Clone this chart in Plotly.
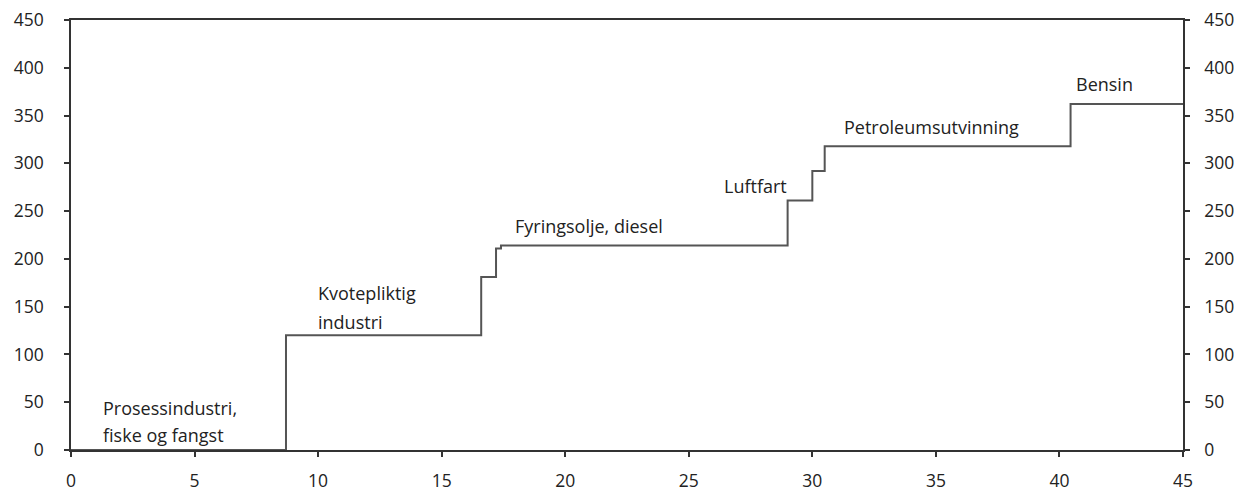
import plotly.graph_objects as go

# Step boundaries (cumulative emissions, x) and cost levels (y)
step_x = [0, 8.7, 16.6, 17.2, 17.4, 29.0, 30.0, 30.5, 40.45, 45]
step_y = [0, 120, 181, 211, 214, 261, 292, 318, 362, 362]

# Labels: text lines, anchor x, anchor y
label_text = ["Prosessindustri,", "fiske og fangst", "Kvotepliktig", "industri",
              "Fyringsolje, diesel", "Luftfart", "Petroleumsutvinning", "Bensin"]
label_x = [1.2, 1.2, 9.9, 9.9, 17.9, 26.35, 31.2, 40.6]
label_y = [44, 16, 164, 134, 234, 276, 338, 383]

x_ticks = [0, 5, 10, 15, 20, 25, 30, 35, 40, 45]
y_ticks = [0, 50, 100, 150, 200, 250, 300, 350, 400, 450]

fnt = dict(family="Open Sans, sans-serif", size=18, color="#222")
tfnt = dict(family="Open Sans, sans-serif", size=17.5, color="#222")
line_col = "#333"

fig = go.Figure()
fig.add_trace(go.Scatter(x=step_x, y=step_y, mode="lines", line_shape="hv",
                         line=dict(color="#555", width=2), showlegend=False, hoverinfo="skip"))
fig.add_trace(go.Scatter(x=step_x, y=step_y, mode="lines", line_shape="hv", yaxis="y2",
                         line=dict(color="rgba(0,0,0,0)", width=0), showlegend=False, hoverinfo="skip"))

for t, xx, yy in zip(label_text, label_x, label_y):
    fig.add_annotation(x=xx, y=yy, text=t, showarrow=False, xanchor="left", yanchor="middle", font=fnt)

axis_common = dict(showgrid=False, zeroline=False, showline=True, linecolor=line_col, linewidth=1.5,
                   ticks="outside", ticklen=5, tickcolor=line_col, tickwidth=1.5, tickfont=tfnt,
                   automargin=False, ticklabeloverflow="allow")

fig.update_layout(
    width=1239, height=485,
    margin=dict(l=63, r=64, t=12, b=43),
    paper_bgcolor="white", plot_bgcolor="white",
    xaxis=dict(range=[0, 45], tickvals=x_ticks, mirror=True, ticklabelstandoff=9, **axis_common),
    yaxis=dict(range=[0, 450], tickvals=y_ticks, mirror=True, ticklabelstandoff=17, **axis_common),
    yaxis2=dict(range=[0, 450], tickvals=y_ticks, overlaying="y", side="right",
                ticklabelstandoff=11, **axis_common),
)

fig.write_html("out.html")
